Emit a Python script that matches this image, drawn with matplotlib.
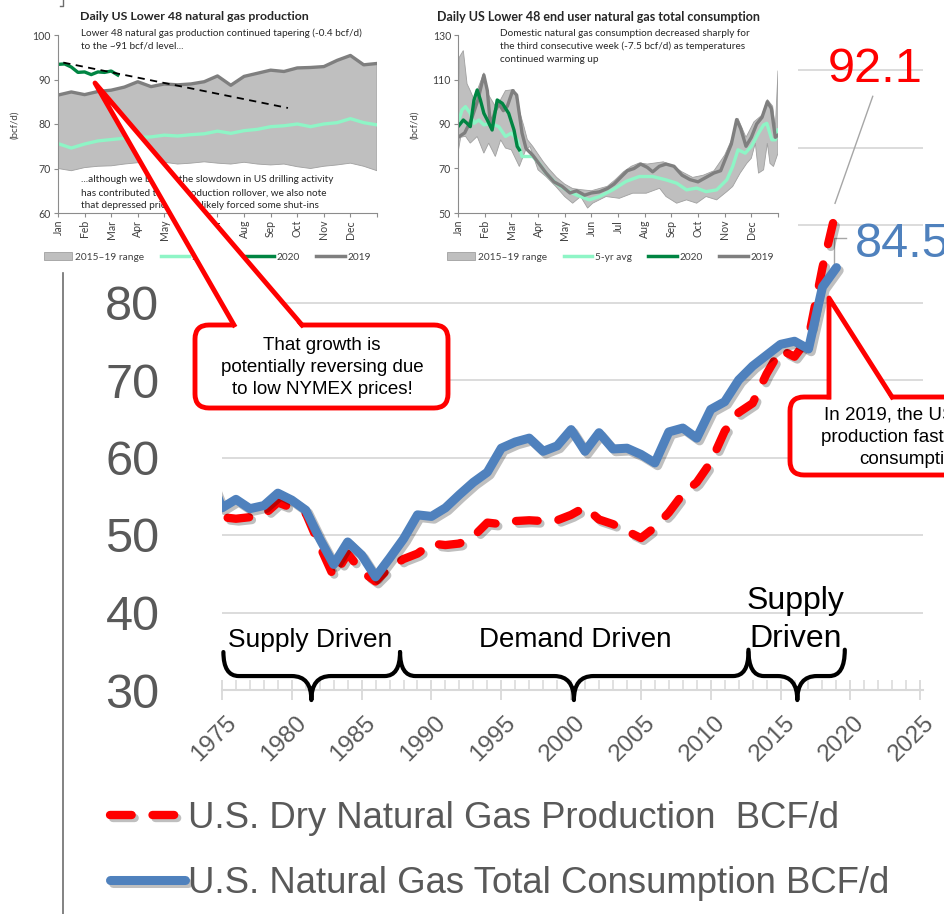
import numpy as np
import matplotlib
matplotlib.use('Agg')
import matplotlib.pyplot as plt
from matplotlib.patches import FancyBboxPatch, Polygon, Rectangle, Patch, PathPatch
from matplotlib.lines import Line2D
from matplotlib.path import Path
import matplotlib.patheffects as pe
from matplotlib.transforms import ScaledTranslation, blended_transform_factory

W, H, DPI = 945, 914, 100

# ---------------- main chart data ----------------
years = list(range(1974, 2020))
production = [56.7, 52.3, 52.1, 52.3, 52.6, 54.2, 53.5, 52.8, 48.6, 44.6,
              47.6, 45.3, 44.0, 45.8, 46.9, 47.6, 48.9, 48.7, 48.9, 49.8,
              51.6, 51.4, 51.8, 51.9, 51.8, 51.9, 52.6, 53.6, 52.0, 51.4,
              50.5, 49.6, 51.0, 52.9, 55.3, 56.8, 59.4, 63.4, 65.8, 67.0,
              70.8, 73.9, 73.0, 75.4, 84.5, 92.1]
consumption = [58.1, 53.5, 54.6, 53.4, 53.8, 55.4, 54.5, 53.2, 49.5, 46.2,
               49.1, 47.4, 44.6, 47.0, 49.5, 52.6, 52.4, 53.5, 55.2, 56.8,
               58.1, 61.2, 62.0, 62.5, 60.8, 61.5, 63.6, 60.8, 63.2, 61.1,
               61.2, 60.4, 59.3, 63.3, 63.8, 62.5, 66.2, 67.2, 70.0, 71.8,
               73.2, 74.6, 75.0, 74.0, 82.0, 84.5]
x_ticks = list(range(1975, 2026, 5))
y_ticks = list(range(30, 120, 10))
# labels above 80 are hidden behind the pasted inset charts in the reference
y_ticklabels = ['30', '40', '50', '60', '70', '80', '', '', '']
prod_label = 'U.S. Dry Natural Gas Production  BCF/d'
cons_label = 'U.S. Natural Gas Total Consumption BCF/d'

# ---------------- inset 1: production ----------------
month_names = ['Jan', 'Feb', 'Mar', 'Apr', 'May', 'Jun', 'Jul', 'Aug', 'Sep', 'Oct', 'Nov', 'Dec']
prod_months = [0.0, 0.5, 1.0, 1.5, 2.0, 2.5, 3.0, 3.5, 4.0, 4.5, 5.0, 5.5, 6.0,
               6.5, 7.0, 7.5, 8.0, 8.5, 9.0, 9.5, 10.0, 10.5, 11.0, 11.5, 12.0]
prod_2019 = [86.5, 87.2, 86.6, 87.3, 87.6, 88.3, 89.5, 88.4, 89.0, 88.8, 89.0, 89.5, 90.8,
             88.7, 90.7, 91.4, 92.1, 91.8, 92.6, 92.7, 92.9, 94.3, 95.4, 93.3, 93.6]
prod_low = [70.0, 69.5, 70.2, 70.5, 70.6, 71.0, 71.3, 71.2, 71.4, 71.0, 71.2, 71.5, 71.2,
            71.0, 71.4, 71.0, 70.8, 71.0, 70.4, 70.0, 70.5, 70.8, 71.2, 70.5, 69.5]
prod_avg = [75.6, 74.6, 75.5, 76.2, 76.5, 76.8, 77.0, 77.1, 77.5, 77.3, 77.6, 77.8, 78.4,
            77.9, 78.5, 78.8, 79.4, 79.6, 80.0, 79.4, 80.0, 80.3, 81.2, 80.3, 79.8]
prod20_months = [0.0, 0.25, 0.5, 0.75, 1.0, 1.25, 1.5, 1.75, 2.0, 2.25]
prod_2020 = [93.4, 93.5, 92.8, 91.6, 91.7, 91.1, 91.7, 91.6, 91.9, 91.0]
trend_months = [0.2, 8.65]
trend_vals = [93.8, 83.6]

# ---------------- inset 2: consumption ----------------
c19_months = [0.0, 0.25, 0.5, 0.75, 0.97, 1.1, 1.22, 1.4, 1.53, 1.7, 1.85, 2.05, 2.2, 2.4,
              2.55, 2.8, 3.05, 3.3, 3.6, 3.9, 4.2, 4.45, 4.75, 5.0, 5.3, 5.6, 5.85, 6.1,
              6.35, 6.6, 6.85, 7.1, 7.3, 7.55, 7.8, 8.1, 8.4, 8.7, 9.0, 9.3, 9.6, 9.85,
              10.05, 10.25, 10.45, 10.6, 10.8, 11.0, 11.2, 11.4, 11.6, 11.75, 11.9, 12.0]
c19_vals = [84, 86, 92, 101, 112, 105, 89, 96, 99, 96, 98, 105, 103, 86,
            79, 76, 72, 68, 64, 62, 59, 60, 58, 59, 59.5, 61, 63, 66,
            69, 70, 72, 70.5, 68.5, 71, 72, 71, 67, 65, 64, 66, 68, 69,
            75, 81, 92, 88, 80, 84, 90, 93, 100, 97, 84, 85]
band_top_months = [0, 0.05, 0.2, 0.34, 0.46, 0.6, 0.78, 0.97, 1.15, 1.4, 1.6, 1.78, 2.1, 2.3,
                   2.47, 2.6, 2.8, 3.2, 3.4, 3.7, 4.0, 4.3, 4.6, 5.0, 5.3, 5.6, 5.9, 6.2,
                   6.5, 6.8, 7.1, 7.4, 7.7, 8.0, 8.4, 8.8, 9.2, 9.6, 10.0, 10.3, 10.5, 10.8,
                   11.1, 11.4, 11.6, 11.8, 11.9, 12.0]
band_top_vals = [92, 120, 123, 108, 105, 101, 107, 113, 103, 98, 101, 105, 105.5, 96,
                 89, 83, 80, 73, 70, 66, 63, 61, 60.5, 60, 61, 62, 65, 68.5,
                 71, 72.5, 72, 72.5, 73, 71.5, 68.5, 66, 67, 69, 76, 84, 92.5, 84,
                 91, 94, 101, 98, 88, 114]
band_bot_months = [0, 0.1, 0.28, 0.46, 0.72, 0.97, 1.15, 1.4, 1.6, 1.78, 2.0, 2.3, 2.54, 2.7,
                   3.0, 3.3, 3.67, 4.0, 4.3, 4.6, 4.86, 5.05, 5.55, 6.05, 6.55, 7.06, 7.56,
                   7.8, 8.2, 8.57, 8.95, 9.3, 9.7, 10.08, 10.3, 10.58, 10.83, 11.0, 11.15,
                   11.27, 11.46, 11.6, 11.7, 11.83, 12.0]
band_bot_vals = [77, 84, 84.5, 81.4, 84.4, 76.9, 81.4, 75.4, 82.9, 79.2, 78.4, 70.9, 78.4, 79.9,
                 69.4, 66.4, 61.9, 57.4, 54.4, 57.4, 52.2, 54.4, 57.4, 56.6, 58.9, 58.9, 61.1,
                 57.4, 54.4, 55.9, 54.4, 57.4, 55.9, 59.6, 61.9, 67.9, 72.3, 74.6, 81.4,
                 67.9, 69.4, 81.4, 72.3, 70.9, 76.9]
cavg_months = [0, 0.15, 0.28, 0.46, 0.6, 0.78, 0.97, 1.22, 1.53, 1.78, 2.0, 2.22, 2.4, 2.8,
               3.04, 3.3, 3.67, 4.05, 4.42, 4.92, 5.3, 5.8, 6.3, 6.8, 7.3, 7.8, 8.2, 8.57,
               8.95, 9.3, 9.7, 10.08, 10.3, 10.5, 10.77, 11.0, 11.27, 11.46, 11.58, 11.77,
               11.9, 12.0]
cavg_vals = [90.3, 96.3, 97.8, 94.8, 90.3, 91.8, 89.6, 90.3, 88.8, 84.4, 85.9, 82.9, 75.4, 75.4,
             72.4, 67.9, 63.4, 60.4, 58.2, 55.9, 57.4, 60.4, 64.2, 66.4, 66.4, 64.9, 63.4, 60.4,
             61.2, 59.6, 60.4, 64.9, 70.9, 78.4, 76.9, 79.9, 85.9, 89.6, 90.3, 82.9,
             82.9, 87.3]
c20_months = [0, 0.2, 0.34, 0.46, 0.6, 0.72, 0.84, 0.97, 1.1, 1.28, 1.47, 1.66, 1.9, 2.1, 2.22, 2.3]
c20_vals = [88.8, 91.8, 90.3, 88.8, 100.8, 105.3, 100.8, 94.8, 91.8, 87.3, 100.8, 99.3, 94.8,
            87.3, 79.9, 78.4]

# ---------------- styles ----------------
RED = '#FF0000'
BLUE = '#4F81BD'
GRAYTXT = '#595959'
GRID = '#D9D9D9'
BAND = '#BFBFBF'
MINT = '#8EF5C6'
DKGREEN = '#008542'
LINE19 = '#7F7F7F'
INSET_FONT = ['Lato', 'DejaVu Sans']

plt.rcParams['font.family'] = ['Liberation Sans', 'DejaVu Sans']
fig = plt.figure(figsize=(W / DPI, H / DPI), dpi=DPI)
fig.patch.set_facecolor('white')


def fy(py):
    return 1 - py / H


def ftext(xp, yp, s, **kw):
    kw.setdefault('zorder', 3)
    return fig.text(xp / W, fy(yp), s, **kw)


# ---------------- main axes ----------------
ax = fig.add_axes([222 / W, (H - 690) / H, 701 / W, 690 / H], zorder=0)
ax.set_facecolor('none')
ax.set_xlim(1975, 2025.2)
ax.set_ylim(30, 30 + 690 / 7.75)

shadow = [pe.SimpleLineShadow(offset=(2, -2), shadow_color='black', alpha=0.25, rho=1), pe.Normal()]
l_prod, = ax.plot(years, production, color=RED, lw=6, linestyle=(0, (2.6, 2.5)),
                  dash_capstyle='round', solid_joinstyle='round', path_effects=shadow,
                  label=prod_label, zorder=3)
l_cons, = ax.plot(years, consumption, color=BLUE, lw=6.5, solid_capstyle='round',
                  solid_joinstyle='round', path_effects=shadow, label=cons_label, zorder=4)

for s in ['left', 'right', 'top']:
    ax.spines[s].set_visible(False)
ax.spines['bottom'].set_color(GRID)
ax.spines['bottom'].set_linewidth(1.5)
ax.set_xticks(x_ticks)
ax.set_xticks(range(1975, 2026), minor=True)
ax.tick_params(axis='x', which='major', direction='inout', length=13.7, width=1.3,
               color=GRID, labelbottom=False)
ax.tick_params(axis='x', which='minor', direction='in', length=7.2, width=1.1, color=GRID)
ax.set_yticks(y_ticks)
ax.set_yticklabels(y_ticklabels)
ax.tick_params(axis='y', length=0, pad=45, labelsize=35, labelcolor=GRAYTXT)
ax.yaxis.grid(True, color=GRID, lw=1.3)
ax.set_axisbelow(True)

xlab_tr = blended_transform_factory(ax.transData, ax.transAxes) + \
    ScaledTranslation(3 / DPI, -22 / DPI, fig.dpi_scale_trans)
for yr in x_ticks:
    ax.text(yr, 0, str(yr), transform=xlab_tr, rotation=45, rotation_mode='anchor',
            ha='right', va='top', fontsize=17.5, color=GRAYTXT, clip_on=False)


def brace(x0, x1, xt, y_end=34.9, y_bar=31.8, y_tip=28.7, d_end=1.1, d_mid=1.4):
    verts = [(x0, y_end), (x0, y_bar), (x0 + d_end, y_bar),
             (xt - d_mid, y_bar), (xt, y_bar), (xt, y_tip),
             (xt, y_bar), (xt + d_mid, y_bar),
             (x1 - d_end, y_bar), (x1, y_bar), (x1, y_end)]
    codes = [Path.MOVETO, Path.CURVE3, Path.CURVE3,
             Path.LINETO, Path.CURVE3, Path.CURVE3,
             Path.CURVE3, Path.CURVE3,
             Path.LINETO, Path.CURVE3, Path.CURVE3]
    ax.add_patch(PathPatch(Path(verts, codes), facecolor='none', edgecolor='black',
                           lw=3, capstyle='round', joinstyle='round', clip_on=False, zorder=5))


brace(1975.1, 1987.75, 1981.4)
brace(1987.75, 2012.7, 2000.2)
brace(2012.7, 2019.6, 2016.2, y_end=35.2)

ax.text(1981.3, 35.6, 'Supply Driven', ha='center', va='baseline', fontsize=19)
ax.text(2000.3, 35.6, 'Demand Driven', ha='center', va='baseline', fontsize=20)
ax.text(2016.1, 40.5, 'Supply', ha='center', va='baseline', fontsize=23)
ax.text(2016.1, 35.5, 'Driven', ha='center', va='baseline', fontsize=23)

ax.text(2018.4, 108.5, '92.1', color=RED, fontsize=35, ha='left', va='baseline')
ax.text(2020.3, 85.9, '84.5', color=BLUE, fontsize=35, ha='left', va='baseline')
ax.plot([2021.6, 2018.9], [106.6, 92.8], color='#A6A6A6', lw=1, zorder=2)
ax.plot([2018.8, 2018.8, 2019.7], [84.8, 88.3, 88.3], color='#A6A6A6', lw=1, zorder=2)

leg = ax.legend(handles=[l_prod, l_cons], loc='center left',
                bbox_to_anchor=(110 / W, fy(851)), bbox_transform=fig.transFigure,
                frameon=False, fontsize=26.3, handlelength=2.06, handletextpad=0.08,
                labelspacing=0.82, borderpad=0, borderaxespad=0, labelcolor=GRAYTXT)

# ---------------- cover for inset images ----------------
cov = fig.add_axes([0, 0, 1, 1], zorder=1)
cov.set_xlim(0, W)
cov.set_ylim(H, 0)
cov.axis('off')
cov.add_patch(Rectangle((0, 0), 798, 273, facecolor='white', edgecolor='none'))


def style_inset(a, ylim, yticks):
    a.patch.set_alpha(0)
    a.set_xlim(0, 12)
    a.set_ylim(*ylim)
    a.set_yticks(yticks)
    a.set_xticks(range(13))
    a.set_xticklabels(month_names + [''], rotation=90, family=INSET_FONT)
    for lbl in a.get_yticklabels():
        lbl.set_family(INSET_FONT)
    for s in ['top', 'right']:
        a.spines[s].set_visible(False)
    for s in ['left', 'bottom']:
        a.spines[s].set_color('#8C8C8C')
        a.spines[s].set_linewidth(0.8)
    a.tick_params(length=3, width=0.8, color='#8C8C8C', labelsize=7.6, labelcolor='#404040', pad=2)


inset_handles = [Patch(facecolor=BAND, edgecolor='#A0A0A0', lw=0.6),
                 Line2D([], [], color=MINT, lw=2.5),
                 Line2D([], [], color=DKGREEN, lw=2.5),
                 Line2D([], [], color=LINE19, lw=2.5)]
inset_labels = ['2015–19 range', '5-yr avg', '2020', '2019']

# left inset
axL = fig.add_axes([58 / W, (H - 213) / H, 319 / W, 178 / H], zorder=2)
style_inset(axL, (60, 100), [60, 70, 80, 90, 100])
axL.fill(list(prod_months) + prod_months[::-1], list(prod_2019) + prod_low[::-1],
         facecolor=BAND, edgecolor='#A0A0A0', lw=0.6)
axL.plot(prod_months, prod_avg, color=MINT, lw=2.4)
axL.plot(prod_months, prod_2019, color=LINE19, lw=2.4)
axL.plot(prod20_months, prod_2020, color=DKGREEN, lw=2.4)
axL.plot(trend_months, trend_vals, color='black', lw=1.3, linestyle=(0, (4, 3)))
axL.legend(inset_handles, inset_labels, ncol=4, loc='center left',
           bbox_to_anchor=(44 / W, fy(257)), bbox_transform=fig.transFigure, frameon=False,
           prop={'family': INSET_FONT, 'size': 7.3}, handlelength=2.8, handletextpad=0.3,
           columnspacing=1.6, borderpad=0, borderaxespad=0, labelcolor='#404040')

# right inset
axR = fig.add_axes([458 / W, (H - 213) / H, 320 / W, 178 / H], zorder=2)
style_inset(axR, (50, 130), [50, 70, 90, 110, 130])
axR.fill(list(band_top_months) + band_bot_months[::-1], list(band_top_vals) + band_bot_vals[::-1],
         facecolor=BAND, edgecolor='#A0A0A0', lw=0.6)
axR.plot(cavg_months, cavg_vals, color=MINT, lw=2.4)
axR.plot(c19_months, c19_vals, color=LINE19, lw=2.4)
axR.plot(c20_months, c20_vals, color=DKGREEN, lw=2.4)
axR.legend(inset_handles, inset_labels, ncol=4, loc='center left',
           bbox_to_anchor=(447 / W, fy(257)), bbox_transform=fig.transFigure, frameon=False,
           prop={'family': INSET_FONT, 'size': 7.3}, handlelength=2.8, handletextpad=0.3,
           columnspacing=1.6, borderpad=0, borderaxespad=0, labelcolor='#404040')

# inset texts
tk = dict(family=INSET_FONT, color='#262626', va='center', ha='left')
ftext(80, 17, 'Daily US Lower 48 natural gas production', fontsize=8.9, fontweight='bold', **tk)
ftext(437, 17, 'Daily US Lower 48 end user natural gas total consumption', fontsize=9,
      fontweight='bold', **tk)
ftext(81, 33, 'Lower 48 natural gas production continued tapering (-0.4 bcf/d)', fontsize=7.2, **tk)
ftext(81, 46, 'to the ~91 bcf/d level...', fontsize=7.2, **tk)
ftext(81, 180, '...although we believe the slowdown in US drilling activity', fontsize=7.2, **tk)
ftext(81, 193, 'has contributed to the production rollover, we also note', fontsize=7.2, **tk)
ftext(81, 205, 'that depressed prices have likely forced some shut-ins', fontsize=7.2, **tk)
ftext(500, 33, 'Domestic natural gas consumption decreased sharply for', fontsize=7.2, **tk)
ftext(500, 46, 'the third consecutive week (-7.5 bcf/d) as temperatures', fontsize=7.2, **tk)
ftext(500, 59, 'continued warming up', fontsize=7.2, **tk)
ftext(15, 125, '(bcf/d)', fontsize=7, rotation=90, family=INSET_FONT, color='#404040',
      ha='center', va='center')
ftext(415, 125, '(bcf/d)', fontsize=7, rotation=90, family=INSET_FONT, color='#404040',
      ha='center', va='center')

# ---------------- overlay: callouts, frame line ----------------
ov = fig.add_axes([0, 0, 1, 1], zorder=5)
ov.set_xlim(0, W)
ov.set_ylim(H, 0)
ov.axis('off')

ov.plot([63, 63], [273, 914], color='#6D6D6D', lw=1.2)
ov.plot([60, 63, 63], [5.5, 5.5, 0], color='#6D6D6D', lw=1.0)

# left callout
ov.add_patch(FancyBboxPatch((195, 325), 253, 83, boxstyle='round,pad=0,rounding_size=14',
                            facecolor='white', edgecolor=RED, lw=3.5, zorder=1))
ov.add_patch(Polygon([(234, 329), (95, 83), (302, 329)], closed=True, facecolor='white',
                     edgecolor='none', zorder=2))
ov.plot([234, 95, 302], [325, 83, 325], color=RED, lw=3.5, solid_joinstyle='round', zorder=3)
for yy, s in zip([345, 367, 389], ['That growth is', 'potentially reversing due',
                                    'to low NYMEX prices!']):
    ov.text(322, yy, s, ha='center', va='center', fontsize=13.5, color='black', zorder=4)

# right callout
ov.add_patch(FancyBboxPatch((790, 397), 320, 78, boxstyle='round,pad=0,rounding_size=14',
                            facecolor='white', edgecolor=RED, lw=3.5, zorder=1))
ov.add_patch(Polygon([(831, 401), (829, 298), (892, 401)], closed=True, facecolor='white',
                     edgecolor='none', zorder=2))
ov.plot([829, 829, 892], [397, 298, 397], color=RED, lw=3.5, solid_joinstyle='round', zorder=3)
for yy, s in zip([415, 437, 459], ['In 2019, the US grew', 'production faster than',
                                    'consumption']):
    ov.text(912, yy, s, ha='center', va='center', fontsize=13.5, color='black', zorder=4)

fig.savefig('out.png', dpi=DPI)
